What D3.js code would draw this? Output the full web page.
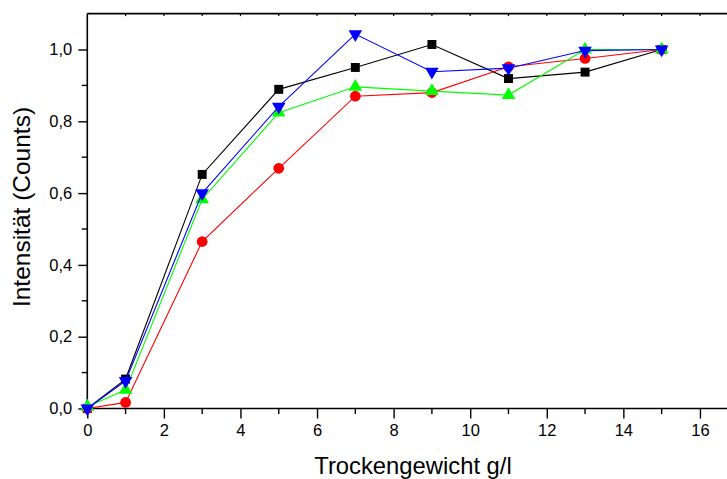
<!DOCTYPE html>
<html>
<head>
<meta charset="utf-8">
<script src="https://cdn.jsdelivr.net/npm/d3@7"></script>
<style>
  html, body { margin: 0; padding: 0; background: #fff; }
  svg { display: block; font-family: "Liberation Sans", Arial, sans-serif; }
</style>
</head>
<body>
<svg id="chart" width="727" height="479"></svg>
<script>
// Dry weight (g/l) and normalised intensities for four measurement series
const xValues = [0, 1, 3, 5, 7, 9, 11, 13, 15];
const seriesBlack = [0, 0.082, 0.652, 0.889, 0.950, 1.014, 0.919, 0.937, 1.0];
const seriesRed   = [0, 0.017, 0.465, 0.669, 0.870, 0.880, 0.952, 0.975, 1.0];
const seriesGreen = [0.005, 0.052, 0.583, 0.824, 0.896, 0.884, 0.873, 1.0, 1.0];
const seriesBlue  = [0, 0.077, 0.600, 0.841, 1.043, 0.938, 0.948, 0.997, 1.0];

const xTicks = [0, 2, 4, 6, 8, 10, 12, 14, 16];
const yTicks = [0, 0.2, 0.4, 0.6, 0.8, 1.0];

const svg = d3.select("#chart");
const plotLeft = 87.3, plotBottom = 408.5, plotTop = 13.6;
const unit = 38.29;

const x = d3.scaleLinear().domain([0, 17.5]).range([plotLeft, plotLeft + 17.5 * unit]);
const y = d3.scaleLinear().domain([0, 1.1]).range([plotBottom, plotTop]);

const fmtY = v => d3.format(".1f")(v).replace(".", ",");

// Top frame line with small inward ticks at every unit
svg.append("line")
  .attr("x1", plotLeft).attr("x2", 727).attr("y1", plotTop).attr("y2", plotTop)
  .attr("stroke", "#000").attr("stroke-width", 1.6);
svg.append("g").selectAll("line")
  .data(d3.range(1, 18))
  .join("line")
  .attr("x1", d => x(d)).attr("x2", d => x(d))
  .attr("y1", plotTop).attr("y2", plotTop + 2.5)
  .attr("stroke", "#000").attr("stroke-width", 1.2);

// Bottom axis
const xAxis = d3.axisBottom(x)
  .tickValues(xTicks)
  .tickSize(10)
  .tickPadding(6)
  .tickFormat(d3.format("d"));
const gx = svg.append("g").attr("transform", `translate(0,${plotBottom})`).call(xAxis);
gx.select(".domain").attr("d", `M${plotLeft},0H727`).attr("stroke-width", 1.6);
gx.selectAll(".tick line").attr("stroke-width", 1.4);
gx.selectAll(".tick text").attr("font-size", 16.5).attr("font-family", "Liberation Sans, Arial, sans-serif").attr("fill", "#000");
const xMinor = d3.range(1, 18, 2);
gx.append("g").selectAll("line").data(xMinor).join("line")
  .attr("x1", d => x(d)).attr("x2", d => x(d))
  .attr("y1", 0).attr("y2", 5.5)
  .attr("stroke", "#000").attr("stroke-width", 1.4);

// Left axis
const yAxis = d3.axisLeft(y)
  .tickValues(yTicks)
  .tickSize(9)
  .tickPadding(6)
  .tickFormat(fmtY);
const gy = svg.append("g").attr("transform", `translate(${plotLeft},0)`).call(yAxis);
gy.select(".domain").attr("d", `M0,${plotBottom}V${plotTop}`).attr("stroke-width", 1.6);
gy.selectAll(".tick line").attr("stroke-width", 1.4);
gy.selectAll(".tick text").attr("font-size", 16.5).attr("font-family", "Liberation Sans, Arial, sans-serif").attr("fill", "#000");
const yMinor = [0.1, 0.3, 0.5, 0.7, 0.9];
gy.append("g").selectAll("line").data(yMinor).join("line")
  .attr("x1", 0).attr("x2", -5.5)
  .attr("y1", d => y(d)).attr("y2", d => y(d))
  .attr("stroke", "#000").attr("stroke-width", 1.4);

// Axis titles
svg.append("text")
  .attr("x", 413).attr("y", 474)
  .attr("text-anchor", "middle")
  .attr("font-size", 23.8)
  .text("Trockengewicht g/l");
svg.append("text")
  .attr("transform", `translate(30,207) rotate(-90)`)
  .attr("text-anchor", "middle")
  .attr("font-size", 24.5)
  .text("Intensität (Counts)");

// Data series
const series = [
  { values: seriesBlack, color: "#000000", symbol: d3.symbolSquare, size: 80, rot: 0 },
  { values: seriesRed,   color: "#ff0000", symbol: d3.symbolCircle, size: 90, rot: 0 },
  { values: seriesGreen, color: "#00ff00", symbol: d3.symbolTriangle, size: 80, rot: 0 },
  { values: seriesBlue,  color: "#0000ff", symbol: d3.symbolTriangle, size: 80, rot: 180 }
];

const line = d3.line().x(d => x(d[0])).y(d => y(d[1]));

series.forEach(s => {
  const pts = xValues.map((xv, i) => [xv, s.values[i]]);
  const g = svg.append("g");
  g.append("path")
    .attr("d", line(pts))
    .attr("fill", "none")
    .attr("stroke", s.color)
    .attr("stroke-width", 1.1);
  g.selectAll("path.mark").data(pts).join("path")
    .attr("class", "mark")
    .attr("d", d3.symbol().type(s.symbol).size(s.size))
    .attr("transform", d => `translate(${x(d[0])},${y(d[1])}) rotate(${s.rot})`)
    .attr("fill", s.color);
});
</script>
</body>
</html>
